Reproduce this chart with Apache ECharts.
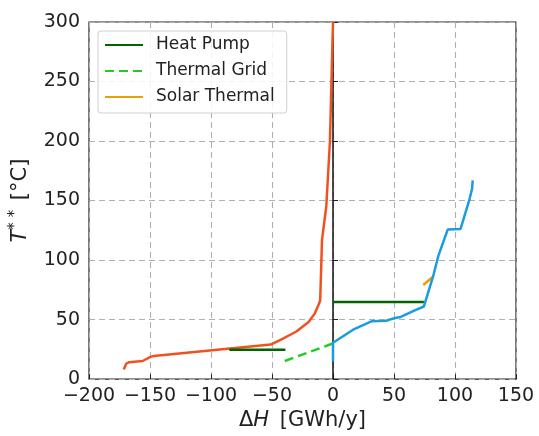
<!DOCTYPE html>
<html>
<head>
<meta charset="utf-8">
<script src="https://cdn.jsdelivr.net/npm/echarts@6/dist/echarts.min.js"></script>
<style>
  html, body { margin: 0; padding: 0; background: #fff; }
  #chart { width: 539px; height: 436px; }
</style>
</head>
<body>
<div id="chart"></div>
<script>
// Axis ticks
const xTicks = [-200, -150, -100, -50, 0, 50, 100, 150];
const yTicks = [0, 50, 100, 150, 200, 250, 300];

// Hot composite curve (orange-red)
const hotCurve = [
  [-171.5, 8], [-169.5, 13], [-167, 14.2], [-156, 15.2], [-150, 18.5], [-147, 19.5],
  [-51, 29], [-43, 33], [-30, 40], [-20, 48], [-15, 55], [-12, 62], [-10.5, 66],
  [-9, 117], [-5.5, 145], [-2.5, 200], [0, 300]
];

// Cold composite curve (blue)
const coldCurve = [
  [0, 15], [0, 30.5], [16.5, 41.5], [31.5, 48.5], [43.5, 49], [51, 51.4],
  [55.5, 52.2], [67, 57.8], [74.5, 61], [82, 86], [86.5, 104], [94, 125.6],
  [104.5, 126], [112, 151.5], [114, 160], [114.5, 167]
];

// Utilities
const heatPumpLow = [[-85, 24.7], [-39, 24.7]];
const heatPumpHigh = [[0, 64.8], [74.5, 64.8]];
const thermalGrid = [[-39.5, 15.2], [0, 30]];
const solarThermal = [[74, 79], [81.5, 85.5]];

const FONT = "DejaVu Sans";
const chart = echarts.init(document.getElementById("chart"));

const lineSeries = (name, data, color, extra) => Object.assign({
  name: name,
  type: "line",
  data: data,
  symbol: "none",
  silent: true,
  lineStyle: { color: color, width: 2.5 },
  itemStyle: { color: color },
  z: 3
}, extra || {});

const option = {
  animation: false,
  grid: {
    left: 89, right: 23, top: 22, bottom: 55,
    show: true, borderColor: "#222", borderWidth: 1.2
  },
  legend: {
    data: ["Heat Pump", "Thermal Grid", "Solar Thermal"],
    orient: "vertical",
    left: 98, top: 31,
    padding: [4, 12, 6, 6],
    itemGap: 6,
    itemWidth: 38, itemHeight: 14,
    itemStyle: { opacity: 0 },
    backgroundColor: "rgba(255,255,255,0.85)",
    borderColor: "#d0d0d0", borderWidth: 1, borderRadius: 3,
    textStyle: { fontFamily: FONT, fontSize: 17, lineHeight: 20, color: "#222", padding: [0, 0, 0, 8] }
  },
  xAxis: {
    type: "value",
    min: -200, max: 150, interval: 50,
    name: "{d|Δ}{i|H}{d| [GWh/y]}",
    nameLocation: "middle", nameGap: 28,
    nameTextStyle: {
      rich: {
        d: { fontFamily: FONT, fontSize: 21, color: "#222" },
        i: { fontFamily: FONT, fontSize: 21, fontStyle: "italic", color: "#222", padding: [0, 4, 0, 0] }
      }
    },
    axisLine: { show: false },
    axisTick: { inside: true, length: 5, lineStyle: { color: "#222" } },
    axisLabel: {
      fontFamily: FONT, fontSize: 19, color: "#222", margin: 7,
      formatter: v => (v < 0 ? "\u2212" + Math.abs(v) : String(v))
    },
    splitLine: { show: true, lineStyle: { color: "#b0b0b0", type: [6, 4], width: 1.1 } }
  },
  yAxis: {
    type: "value",
    min: 0, max: 300, interval: 50,
    name: "{i|T}{s|* *}{d| [°C]}",
    nameLocation: "middle", nameGap: 56, nameRotate: 90,
    nameTextStyle: {
      rich: {
        d: { fontFamily: FONT, fontSize: 21, color: "#222" },
        i: { fontFamily: FONT, fontSize: 21, fontStyle: "italic", color: "#222" },
        s: { fontFamily: FONT, fontSize: 15, color: "#222", padding: [0, 3, 10, 0] }
      }
    },
    axisLine: { show: false },
    axisTick: { inside: true, length: 5, lineStyle: { color: "#222" } },
    axisLabel: { fontFamily: FONT, fontSize: 19, color: "#222", margin: 9 },
    splitLine: { show: true, lineStyle: { color: "#b0b0b0", type: [6, 4], width: 1.1 } }
  },
  series: [
    // vertical line at ΔH = 0, drawn under the curves
    {
      name: "zero", type: "line", data: [], silent: true, z: 1,
      markLine: {
        silent: true, symbol: "none", label: { show: false }, z: 1,
        lineStyle: { color: "#111", type: "solid", width: 1.5 },
        data: [{ xAxis: 0 }]
      }
    },
    lineSeries("Hot", hotCurve, "#f0521e"),
    lineSeries("Cold", coldCurve, "#1b9be0", { z: 4 }),
    lineSeries("Heat Pump", heatPumpLow, "#006400"),
    lineSeries("Heat Pump", heatPumpHigh, "#006400"),
    lineSeries("Thermal Grid", thermalGrid, "#22cc22", {
      lineStyle: { color: "#22cc22", width: 2.5, type: [9, 5] }
    }),
    lineSeries("Solar Thermal", solarThermal, "#e8a000")
  ]
};

chart.setOption(option);
</script>
</body>
</html>
